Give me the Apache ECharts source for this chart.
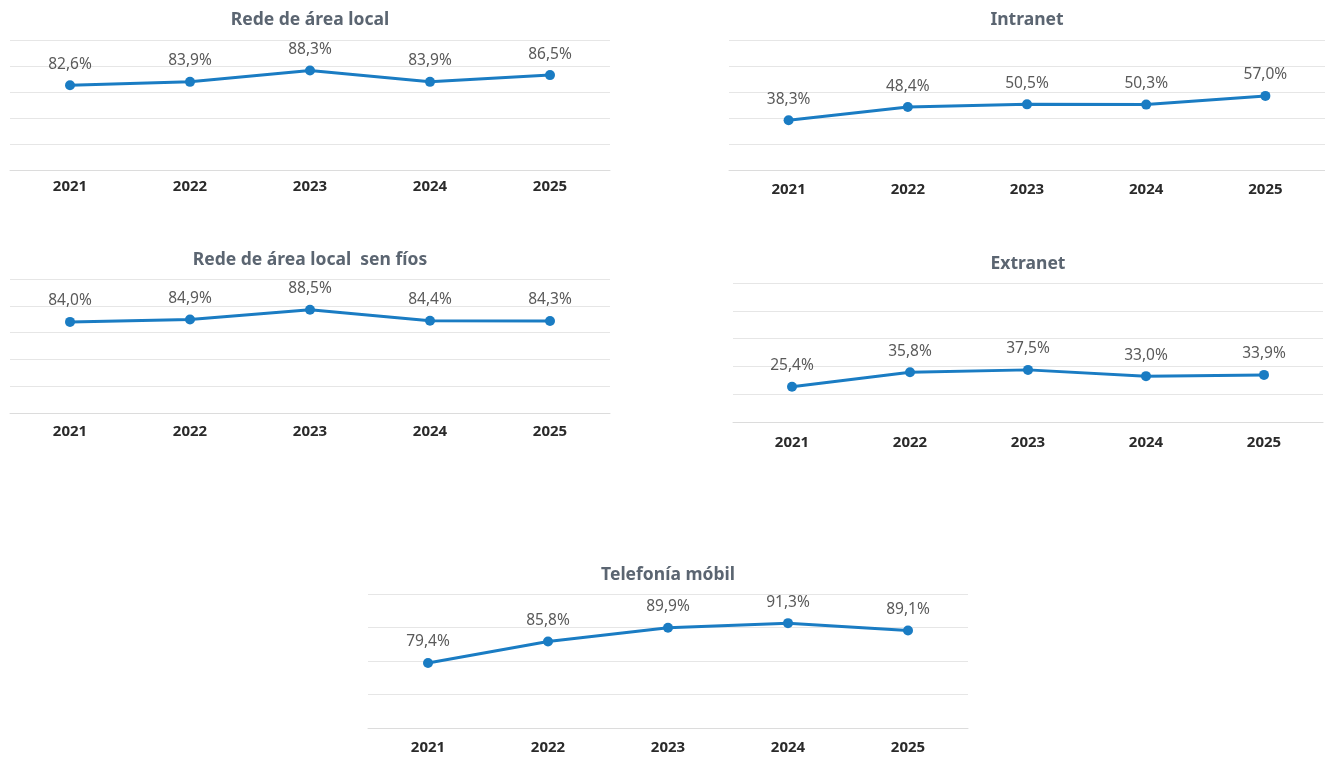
<!DOCTYPE html>
<html>
<head>
<meta charset="utf-8">
<script src="https://cdn.jsdelivr.net/npm/echarts@6/dist/echarts.min.js"></script>
<style>
html,body{margin:0;padding:0;background:#fff;}
#chart{width:1325px;height:760px;}
</style>
</head>
<body>
<div id="chart"></div>
<script>
const years = ['2021','2022','2023','2024','2025'];
const titles = ['Rede de área local','Intranet','Rede de área local  sen fíos','Extranet','Telefonía móbil'];
const lanValues = [82.6, 83.9, 88.3, 83.9, 86.5];
const intranetValues = [38.3, 48.4, 50.5, 50.3, 57.0];
const wlanValues = [84.0, 84.9, 88.5, 84.4, 84.3];
const extranetValues = [25.4, 35.8, 37.5, 33.0, 33.9];
const mobileValues = [79.4, 85.8, 89.9, 91.3, 89.1];
const seriesValues = [lanValues, intranetValues, wlanValues, extranetValues, mobileValues];
const yMin = [50, 0, 50, 0, 60];
const yMax = [100, 100, 100, 100, 100];
const yInterval = [10, 20, 10, 20, 10];

const grids = [
  {left: 10, top: 40, width: 600, height: 130},
  {left: 729, top: 40, width: 597, height: 130},
  {left: 10, top: 279, width: 600, height: 134},
  {left: 733, top: 283, width: 590, height: 139},
  {left: 368, top: 594, width: 600, height: 134}
];
const labelMargins = [9, 12, 11, 13, 12];
const titlePos = [
  {x: 310, y: 18}, {x: 1027, y: 18}, {x: 310, y: 258}, {x: 1028, y: 262}, {x: 668, y: 573}
];

const font = '"Noto Sans", "Open Sans", sans-serif';
const fmt = v => v.toFixed(1).replace('.', ',') + '%';

const option = {
  animation: false,
  title: titles.map((t, i) => ({
    text: t,
    left: titlePos[i].x,
    top: titlePos[i].y - 10,
    padding: 0,
    textAlign: 'center',
    textStyle: {fontFamily: font, fontSize: 17.5, fontWeight: 'bold', color: '#5b6571', lineHeight: 24}
  })),
  grid: grids.map(g => Object.assign({containLabel: false}, g)),
  xAxis: grids.map((g, i) => ({
    type: 'category',
    gridIndex: i,
    data: years,
    boundaryGap: true,
    axisLine: {show: true, lineStyle: {color: '#dcdcdc', width: 1}},
    axisTick: {show: false},
    axisLabel: {margin: labelMargins[i], fontFamily: font, fontSize: 15, fontWeight: 'bold', color: '#2a2a2a'}
  })),
  yAxis: grids.map((g, i) => ({
    type: 'value',
    gridIndex: i,
    min: yMin[i],
    max: yMax[i],
    interval: yInterval[i],
    axisLine: {show: false},
    axisTick: {show: false},
    axisLabel: {show: false},
    splitLine: {show: true, lineStyle: {color: '#e6e6e6', width: 1}}
  })),
  series: seriesValues.map((vals, i) => ({
    type: 'line',
    xAxisIndex: i,
    yAxisIndex: i,
    data: vals,
    symbol: 'circle',
    symbolSize: 10,
    lineStyle: {color: '#1a7cc3', width: 3},
    itemStyle: {color: '#1a7cc3'},
    label: {
      show: true,
      position: 'top',
      distance: 8,
      formatter: p => fmt(p.value),
      fontFamily: font,
      fontSize: 15.5,
      color: '#5a5a5a'
    }
  }))
};

const chart = echarts.init(document.getElementById('chart'), null, {renderer: 'canvas'});
chart.setOption(option);
</script>
</body>
</html>
